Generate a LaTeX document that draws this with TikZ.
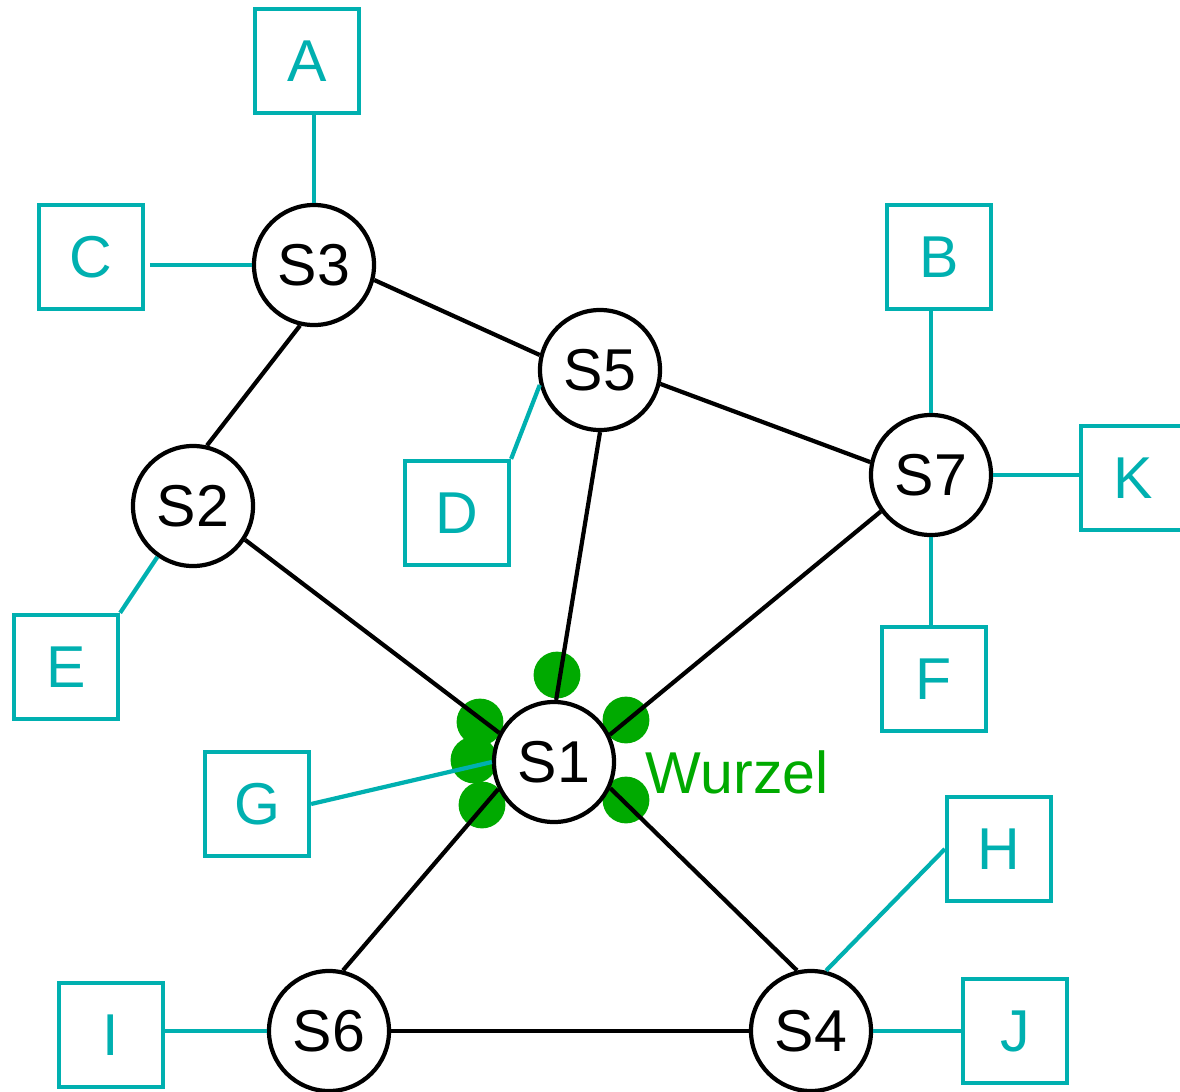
\documentclass[tikz,border=0pt]{standalone}
\usepackage{fontspec}
\setmainfont{Liberation Sans}
\begin{document}
\begin{tikzpicture}[x=0.025cm,y=-0.025cm,
  sw/.style={circle,draw=black,fill=white,line width=3pt,minimum size=3cm,inner sep=0pt,font=\fontsize{42}{42}\selectfont},
  host/.style={rectangle,draw=hostc,fill=white,line width=3pt,minimum size=2.6cm,inner sep=0pt,text=hostc,font=\fontsize{42}{42}\selectfont},
  link/.style={line width=3pt,black},
  hlink/.style={line width=3pt,hostc},
  port/.style={circle,fill=rootc,draw=none,minimum size=1.17cm,inner sep=0pt}]
\definecolor{hostc}{RGB}{0,176,176}
\definecolor{rootc}{RGB}{0,170,0}
\useasboundingbox (0,0) rectangle (1180,1092);
\clip (0,0) rectangle (1180,1092);

% root ports around S1
\node[port] (p1) at (557,675) {};
\node[port] (p2) at (480,722) {};
\node[port] (p3) at (474,760) {};
\node[port] (p4) at (482,805) {};
\node[port] (p5) at (626,720) {};
\node[port] (p6) at (626,800) {};

% switches
\node[sw] (S1) at (554,762) {S1};
\node[sw] (S2) at (193,506) {S2};
\node[sw] (S3) at (314,265) {S3};
\node[sw] (S4) at (811,1031) {S4};
\node[sw] (S5) at (600,370) {S5};
\node[sw] (S6) at (329,1031) {S6};
\node[sw] (S7) at (931,475) {S7};

% hosts
\node[host] (A) at (307,61) {A};
\node[host] (B) at (939,257) {B};
\node[host] (C) at (91,257) {C};
\node[host] (D) at (457,513) {D};
\node[host] (E) at (66,667) {E};
\node[host] (F) at (934,679) {F};
\node[host] (G) at (257,804) {G};
\node[host] (H) at (999,849) {H};
\node[host] (I) at (111,1035) {I};
\node[host] (J) at (1015,1031) {J};
\node[host] (K) at (1133,478) {K};

\node[text=rootc,anchor=west,font=\fontsize{42}{42}\selectfont] (root) at (641,772) {Wurzel};

% switch links
\draw[link] (S3.-14) -- (S5.166);
\draw[link] (S3.-103) -- (S2.77);
\draw[link] (S5.-13) -- (S7.168);
\draw[link] (S5.-90) -- (S1.88);
\draw[link] (S7.-144) -- (S1.26);
\draw[link] (S2.-33) -- (S1.152);
\draw[link] (S1.-154) -- (S6.77);
\draw[link] (S1.-25) -- (S4.103);
\draw[link] (S6.east) -- (S4.west);

% host links
\draw[hlink] (A.south -| S3) -- (S3.north);
\draw[hlink] ([xshift=0.12cm]C.east |- S3) -- (S3.west);
\draw[hlink] (B.south -| S7) -- (S7.north);
\draw[hlink] (S7.east) -- (K.west |- S7);
\draw[hlink] (S7.south) -- (F.north -| S7);
\draw[hlink] (D.north east) -- (S5.194);
\draw[hlink] (E.north east) -- (S2.-125);
\draw[hlink] (G.east) -- (S1.west);
\draw[hlink] (H.west) -- (S4.76);
\draw[hlink] (I.east |- S6) -- (S6.west);
\draw[hlink] (S4.east) -- (J.west |- S4);
\end{tikzpicture}
\end{document}
